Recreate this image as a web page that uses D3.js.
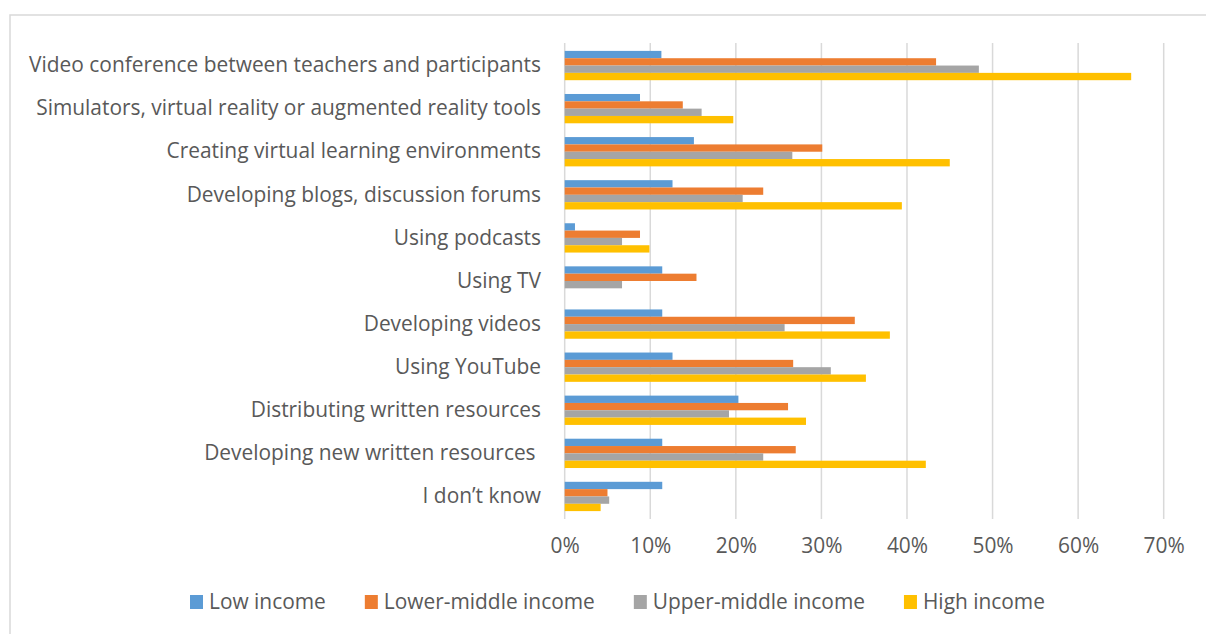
<!DOCTYPE html>
<html>
<head>
<meta charset="utf-8">
<script src="https://cdn.jsdelivr.net/npm/d3@7"></script>
<style>
  html, body { margin: 0; padding: 0; background: #fff; }
  svg text { font-family: "Open Sans", Lato, "Liberation Sans", sans-serif; fill: #595959; white-space: pre; }
</style>
</head>
<body>
<svg id="chart" width="1206" height="634"></svg>
<script>
var categories = [
  "Video conference between teachers and participants",
  "Simulators, virtual reality or augmented reality tools",
  "Creating virtual learning environments",
  "Developing blogs, discussion forums",
  "Using podcasts",
  "Using TV",
  "Developing videos",
  "Using YouTube",
  "Distributing written resources",
  "Developing new written resources ",
  "I don\u2019t know"
];
var seriesNames = ["Low income", "Lower-middle income", "Upper-middle income", "High income"];
var lowIncome = [11.3, 8.8, 15.1, 12.6, 1.2, 11.4, 11.4, 12.6, 20.3, 11.4, 11.4];
var lowerMiddleIncome = [43.4, 13.8, 30.1, 23.2, 8.8, 15.4, 33.9, 26.7, 26.1, 27.0, 5.0];
var upperMiddleIncome = [48.4, 16.0, 26.6, 20.8, 6.7, 6.7, 25.7, 31.1, 19.2, 23.2, 5.2];
var highIncome = [66.2, 19.7, 45.0, 39.4, 9.9, 0, 38.0, 35.2, 28.2, 42.2, 4.2];
var tickValues = [0, 10, 20, 30, 40, 50, 60, 70];

var seriesValues = [lowIncome, lowerMiddleIncome, upperMiddleIncome, highIncome];
var colors = ["#5B9BD5", "#ED7D31", "#A5A5A5", "#FFC000"];
var FONT_SIZE = 20.9;

var svg = d3.select("#chart");

// outer chart border (runs off the right and bottom edge)
svg.append("rect")
  .attr("x", 10).attr("y", 15)
  .attr("width", 1220).attr("height", 640)
  .attr("fill", "none")
  .attr("stroke", "#d9d9d9")
  .attr("stroke-width", 1.5);

var x = d3.scaleLinear().domain([0, 70]).range([564.7, 1163.7]);
var y = d3.scaleBand().domain(categories).range([44, 518]).paddingInner(0.32).paddingOuter(0.16);
var ySub = d3.scaleBand().domain(seriesNames).range([0, y.bandwidth()]);
var color = d3.scaleOrdinal().domain(seriesNames).range(colors);

// gridlines
svg.append("g").selectAll("line")
  .data(tickValues)
  .enter().append("line")
  .attr("x1", function (d) { return x(d); })
  .attr("x2", function (d) { return x(d); })
  .attr("y1", 43).attr("y2", 519)
  .attr("stroke", "#d9d9d9")
  .attr("stroke-width", 1.5);

// x axis labels
var xAxis = d3.axisBottom(x)
  .tickValues(tickValues)
  .tickFormat(function (d) { return d + "%"; })
  .tickSize(0)
  .tickPadding(0);
var gx = svg.append("g").attr("transform", "translate(0,538)").call(xAxis);
gx.select(".domain").remove();
gx.selectAll("text").attr("font-size", FONT_SIZE).attr("fill", "#595959");

// category labels
var yAxis = d3.axisLeft(y).tickSize(0).tickPadding(0);
var gy = svg.append("g").attr("transform", "translate(541,0)").call(yAxis);
gy.select(".domain").remove();
gy.selectAll("text").attr("font-size", FONT_SIZE).attr("fill", "#595959");

// bars
var rows = categories.map(function (c, i) {
  return { category: c, values: seriesNames.map(function (s, j) { return { series: s, value: seriesValues[j][i] }; }) };
});

var group = svg.append("g").selectAll("g")
  .data(rows)
  .enter().append("g")
  .attr("transform", function (d) { return "translate(0," + y(d.category) + ")"; });

group.selectAll("rect")
  .data(function (d) { return d.values; })
  .enter().append("rect")
  .attr("x", x(0))
  .attr("y", function (d) { return ySub(d.series); })
  .attr("width", function (d) { return x(d.value) - x(0); })
  .attr("height", ySub.bandwidth())
  .attr("fill", function (d) { return color(d.series); });

// legend
var legend = svg.append("g");
var lx = 190;
seriesNames.forEach(function (s) {
  legend.append("rect")
    .attr("x", lx).attr("y", 595)
    .attr("width", 13).attr("height", 14)
    .attr("fill", color(s));
  var t = legend.append("text")
    .attr("x", lx + 19).attr("y", 609)
    .attr("font-size", FONT_SIZE)
    .text(s);
  lx += 19 + t.node().getComputedTextLength() + 39;
});
</script>
</body>
</html>
